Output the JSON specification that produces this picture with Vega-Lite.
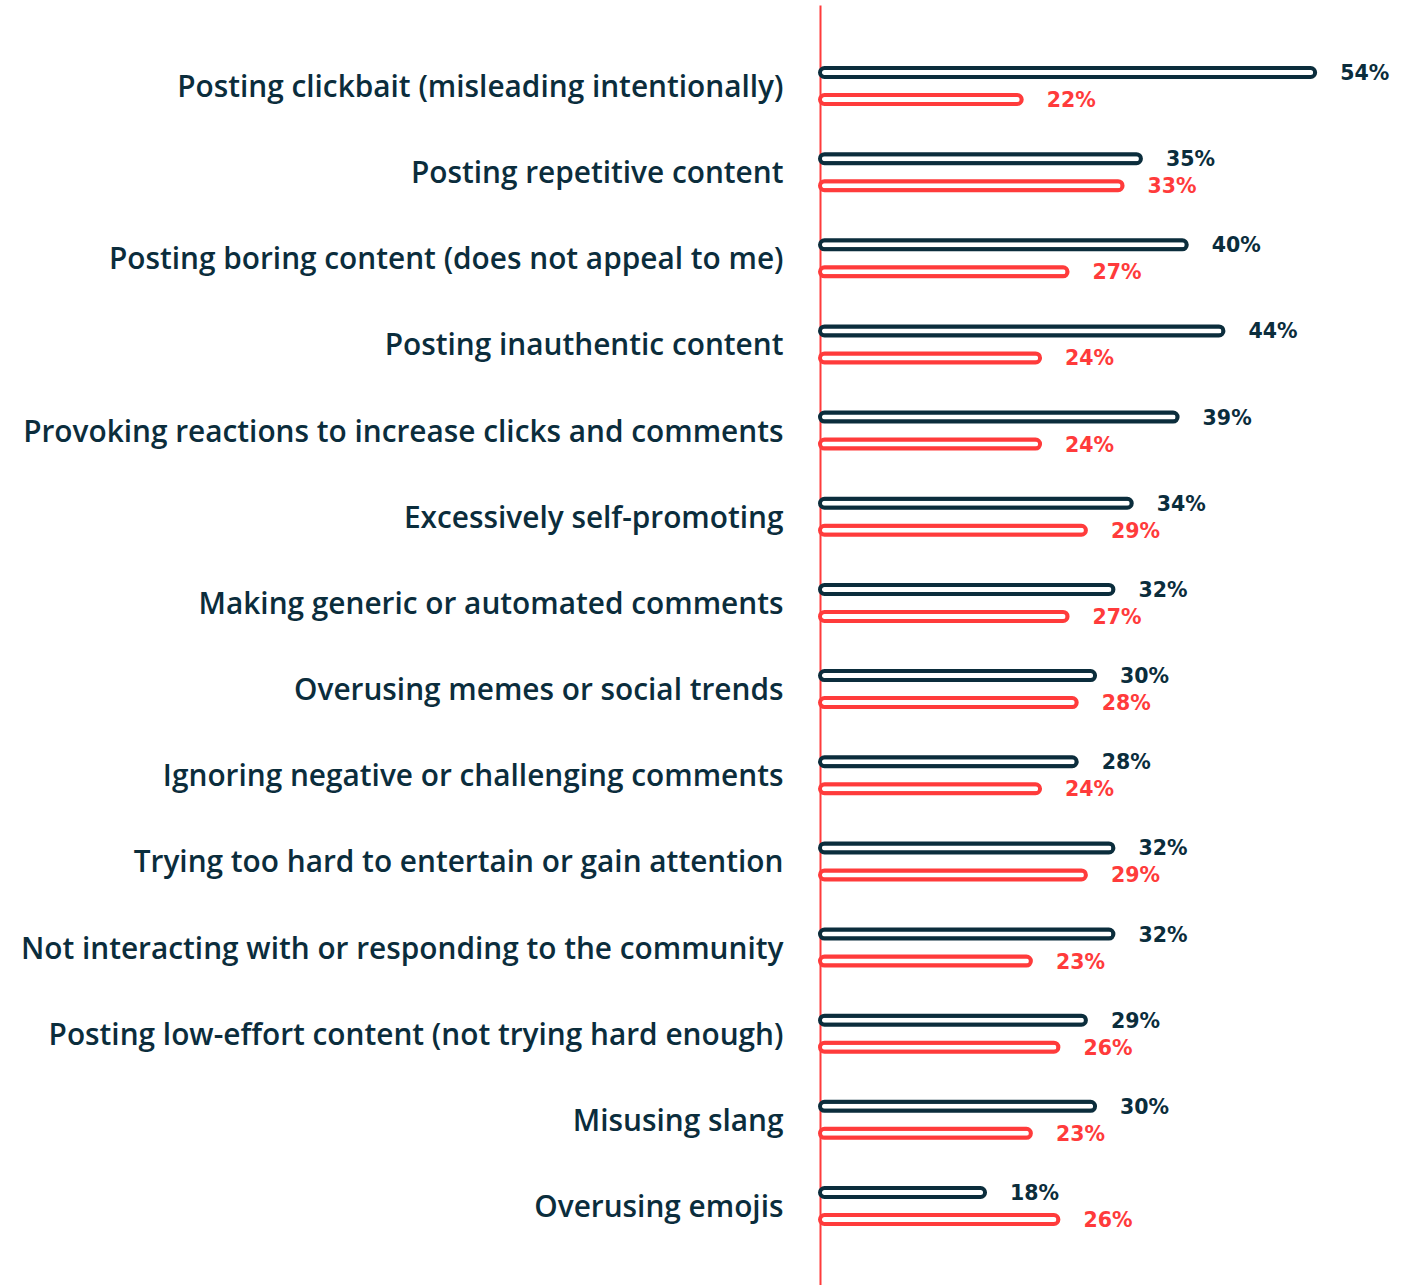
{
  "$schema": "https://vega.github.io/schema/vega-lite/v6.json",
  "width": 596,
  "height": 1282,
  "autosize": {"type": "none"},
  "padding": {"left": 820, "top": 5, "right": 2, "bottom": 0},
  "background": "white",
  "config": {"view": {"stroke": null}},
  "data": {
    "values": [
      {"item": "Posting clickbait (misleading intentionally)", "series": "Group 1", "value": 54},
      {"item": "Posting clickbait (misleading intentionally)", "series": "Group 2", "value": 22},
      {"item": "Posting repetitive content", "series": "Group 1", "value": 35},
      {"item": "Posting repetitive content", "series": "Group 2", "value": 33},
      {"item": "Posting boring content (does not appeal to me)", "series": "Group 1", "value": 40},
      {"item": "Posting boring content (does not appeal to me)", "series": "Group 2", "value": 27},
      {"item": "Posting inauthentic content", "series": "Group 1", "value": 44},
      {"item": "Posting inauthentic content", "series": "Group 2", "value": 24},
      {"item": "Provoking reactions to increase clicks and comments", "series": "Group 1", "value": 39},
      {"item": "Provoking reactions to increase clicks and comments", "series": "Group 2", "value": 24},
      {"item": "Excessively self-promoting", "series": "Group 1", "value": 34},
      {"item": "Excessively self-promoting", "series": "Group 2", "value": 29},
      {"item": "Making generic or automated comments", "series": "Group 1", "value": 32},
      {"item": "Making generic or automated comments", "series": "Group 2", "value": 27},
      {"item": "Overusing memes or social trends", "series": "Group 1", "value": 30},
      {"item": "Overusing memes or social trends", "series": "Group 2", "value": 28},
      {"item": "Ignoring negative or challenging comments", "series": "Group 1", "value": 28},
      {"item": "Ignoring negative or challenging comments", "series": "Group 2", "value": 24},
      {"item": "Trying too hard to entertain or gain attention", "series": "Group 1", "value": 32},
      {"item": "Trying too hard to entertain or gain attention", "series": "Group 2", "value": 29},
      {"item": "Not interacting with or responding to the community", "series": "Group 1", "value": 32},
      {"item": "Not interacting with or responding to the community", "series": "Group 2", "value": 23},
      {"item": "Posting low-effort content (not trying hard enough)", "series": "Group 1", "value": 29},
      {"item": "Posting low-effort content (not trying hard enough)", "series": "Group 2", "value": 26},
      {"item": "Misusing slang", "series": "Group 1", "value": 30},
      {"item": "Misusing slang", "series": "Group 2", "value": 23},
      {"item": "Overusing emojis", "series": "Group 1", "value": 18},
      {"item": "Overusing emojis", "series": "Group 2", "value": 26}
    ]
  },
  "transform": [{"calculate": "datum.value + '%'", "as": "label"}],
  "encoding": {
    "y": {
      "field": "item",
      "type": "nominal",
      "sort": null,
      "title": null,
      "scale": {"paddingOuter": 0.44, "paddingInner": 0},
      "axis": {
        "domain": true,
        "domainColor": "#ff3b3b",
        "domainWidth": 2,
        "ticks": false,
        "labelPadding": 37,
        "labelOffset": 2,
        "labelFont": "Open Sans",
        "labelFontSize": 29.8,
        "labelFontWeight": 600,
        "labelColor": "#0b2d3c",
        "labelLimit": 900,
        "grid": false
      }
    },
    "yOffset": {
      "field": "series",
      "type": "nominal",
      "sort": ["Group 1", "Group 2"],
      "scale": {"paddingInner": 0, "paddingOuter": 0.595}
    },
    "x": {
      "field": "value",
      "type": "quantitative",
      "scale": {"domain": [0, 65]},
      "axis": null
    }
  },
  "layer": [
    {
      "mark": {"type": "bar", "height": 9, "fill": "white", "strokeWidth": 4, "cornerRadius": 4.5},
      "encoding": {
        "stroke": {
          "field": "series",
          "type": "nominal",
          "scale": {"domain": ["Group 1", "Group 2"], "range": ["#0b2d3c", "#ff3b3b"]},
          "legend": null
        }
      }
    },
    {
      "mark": {"type": "text", "align": "left", "baseline": "middle", "dx": 25, "dy": 1.5, "font": "DejaVu Sans", "fontSize": 20.5, "fontWeight": "bold"},
      "encoding": {
        "text": {"field": "label", "type": "nominal"},
        "color": {
          "field": "series",
          "type": "nominal",
          "scale": {"domain": ["Group 1", "Group 2"], "range": ["#0b2d3c", "#ff3b3b"]},
          "legend": null
        }
      }
    }
  ]
}
